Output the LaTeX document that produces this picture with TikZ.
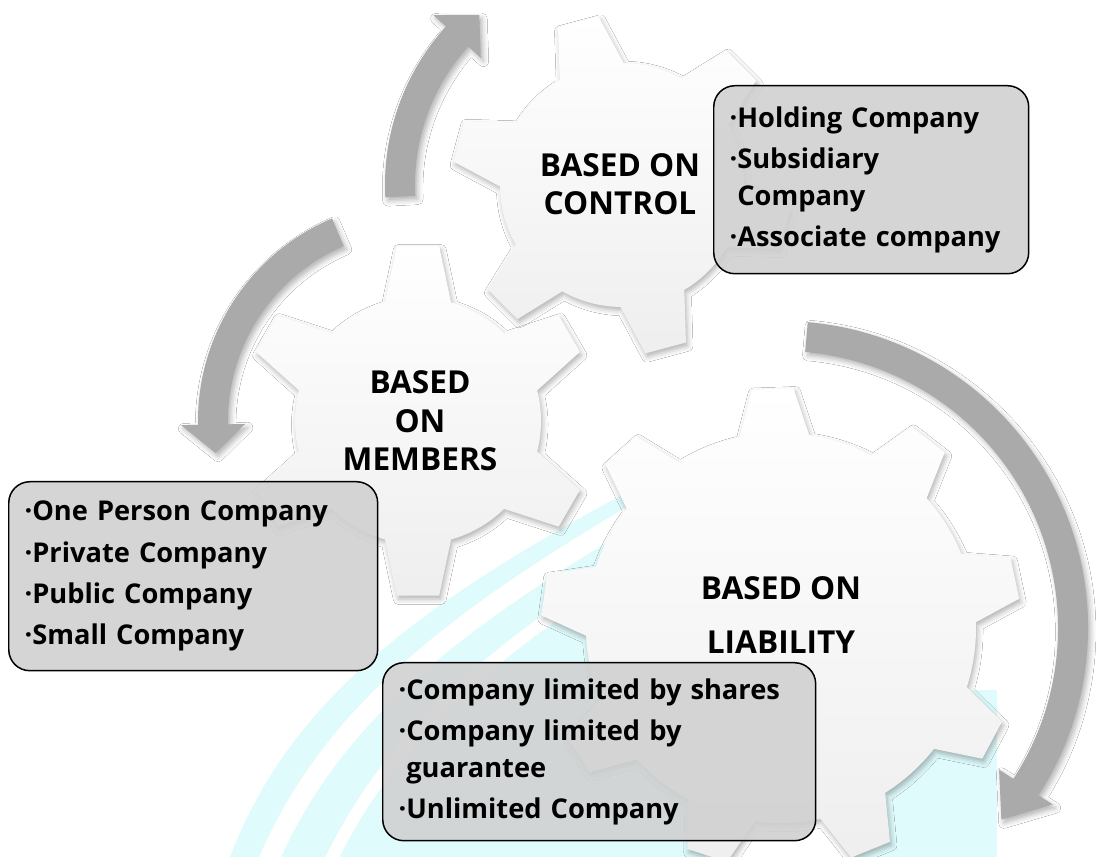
\documentclass[tikz,border=0pt]{standalone}
\usepackage{fontspec}
\setmainfont{Open Sans}
\usetikzlibrary{math, shadows.blur}

\definecolor{wisp}{RGB}{224,251,252}
\definecolor{arrowgray}{RGB}{170,170,170}
\definecolor{boxgray}{RGB}{208,208,208}

\begin{document}
\begin{tikzpicture}[x=0.02cm, y=0.02cm,
  gearbody/.style={top color=white, bottom color=gray!13,
    blur shadow={shadow xshift=1pt, shadow yshift=-2pt, shadow blur radius=3pt, shadow opacity=30}},
  arrowbody/.style={fill=arrowgray,
    blur shadow={shadow xshift=1.5pt, shadow yshift=-2pt, shadow blur radius=3pt, shadow opacity=30}},
  gearlabel/.style={align=center, font=\bfseries\fontsize{18}{21.8}\selectfont},
  listbox/.style={draw=black, line width=0.85pt, rounded corners=12pt,
    fill=boxgray, fill opacity=0.88, text opacity=1, anchor=north west,
    align=left, inner xsep=9pt, font=\bfseries\fontsize{15.5}{21}\selectfont}]
\tikzmath{
\w=15;  % half shaft width
\h=32;  % half head width
}
\useasboundingbox (0,0) rectangle (1103,857);
\fill[white] (0,0) rectangle (1103,857);

% light wisp behind everything, with a white streak through it
\fill[wisp] (230,0) .. controls (290,157) and (420,257) .. (660,382) -- (760,337) -- (705,0) -- cycle;
\draw[white, line width=0.4cm] (268,-5) .. controls (330,140) and (450,235) .. (650,352);
\draw[white, line width=0.25cm] (330,-5) .. controls (390,120) and (490,205) .. (640,300);
\fill[wisp] (855,0) rectangle (997,167);

\coordinate (G1) at (622,672);
\coordinate (G2) at (418,436);
\coordinate (G3) at (781,229);

% gears
\path[gearbody, shift={(G3)}] (12-10.3:195)
  \foreach \a in {12,52,...,332}{ -- (\a-5:240) -- (\a+5:240) -- (\a+10.3:195)
    arc[start angle=\a+10.3, end angle=\a+29.7, radius=195] } -- cycle;
\path[gearbody, shift={(G1)}] (45-15.7:122)
  \foreach \a in {45,105,...,345}{ -- (\a-7.1:170) -- (\a+7.1:170) -- (\a+15.7:122)
    arc[start angle=\a+15.7, end angle=\a+44.3, radius=122] } -- cycle;
\path[gearbody, shift={(G2)}] (30-15.6:123)
  \foreach \a in {30,90,...,330}{ -- (\a-6.9:176) -- (\a+6.9:176) -- (\a+15.6:123)
    arc[start angle=\a+15.6, end angle=\a+44.4, radius=123] } -- cycle;

% bent arrows round the gears
\path[arrowbody, shift={(G1)}] (183:222+\w) arc[start angle=183, end angle=138, radius=222+\w]
  -- (138:222+\h) -- (130:222) -- (138:222-\h) -- (138:222-\w)
  arc[start angle=138, end angle=183, radius=222-\w] -- cycle;
\path[arrowbody, shift={(G2)}] (113:205+\w) arc[start angle=113, end angle=181, radius=205+\w]
  -- (181:205+\h) -- (189:205) -- (181:205-\h) -- (181:205-\w)
  arc[start angle=181, end angle=113, radius=205-\w] -- cycle;
\path[arrowbody, shift={(G3)}] (85:292+\w) arc[start angle=85, end angle=-33, radius=292+\w]
  -- (-33:292+\h) -- (-41:292) -- (-33:292-\h) -- (-33:292-\w)
  arc[start angle=-33, end angle=85, radius=292-\w] -- cycle;

\node[gearlabel] (control) at (620,673) {BASED ON\\CONTROL};
\node[gearlabel] (members) at (420,436) {BASED\\ON\\MEMBERS};
\node[gearlabel] (liability) at (781,242) {BASED ON\\[9pt]LIABILITY};

\node[listbox, minimum width=6.3cm, minimum height=3.76cm, text width=6.3cm-18pt]
  (controlbox) at (713,772)
  {·Holding Company\\[2.5pt]·Subsidiary\\\phantom{·}Company\\[2.5pt]·Associate company};
\node[listbox, minimum width=7.38cm, minimum height=3.78cm, text width=7.38cm-18pt]
  (membersbox) at (8,376)
  {·One Person Company\\[2.5pt]·Private Company\\[2.5pt]·Public Company\\[2.5pt]·Small Company};
\node[listbox, minimum width=8.66cm, minimum height=3.56cm, text width=8.66cm-18pt]
  (liabilitybox) at (382,195)
  {·Company limited by shares\\[2.5pt]·Company limited by\\\phantom{·}guarantee\\[2.5pt]·Unlimited Company};
\end{tikzpicture}
\end{document}
